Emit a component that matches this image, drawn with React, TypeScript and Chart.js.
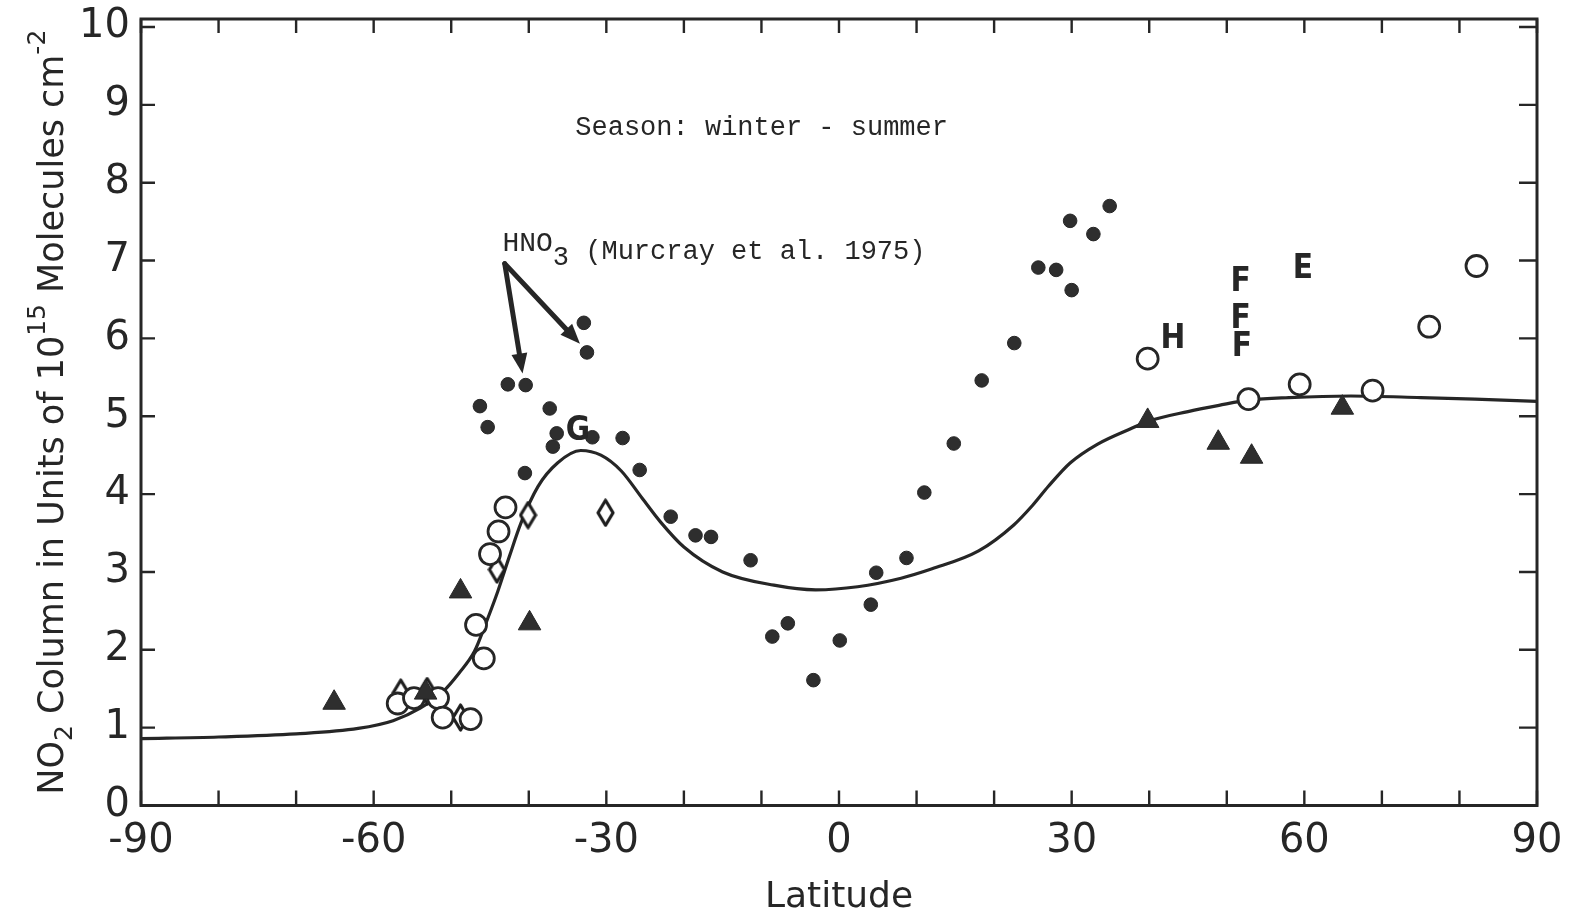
import React, { useEffect, useRef } from 'react';
import { Chart, registerables } from 'chart.js';

Chart.register(...registerables);

const INK = '#262626';
const FILL = '#2e2e2e';

// Axis ticks
const xLabelValues = [-90, -60, -30, 0, 30, 60, 90];
const yTickValues = [0, 1, 2, 3, 4, 5, 6, 7, 8, 9, 10];

// Smoothed latitudinal NO2 column curve
const curveLat = [-90, -80, -70, -62, -57.5, -54, -51, -49, -47, -45.5, -44, -42.5, -41, -38.8, -36.3, -33.3, -30.7, -28.1, -25.4, -23, -20, -15, -8.4, -3, 2.4, 8, 12, 18, 22.5, 25, 27, 29.8, 33.3, 37.6, 40, 45, 49, 53, 58, 66, 75, 82, 90];
const curveNO2 = [0.86, 0.88, 0.92, 0.99, 1.09, 1.25, 1.47, 1.7, 1.98, 2.35, 2.75, 3.2, 3.63, 4.1, 4.4, 4.56, 4.5, 4.3, 3.95, 3.64, 3.32, 3.0, 2.83, 2.77, 2.81, 2.92, 3.04, 3.27, 3.6, 3.86, 4.1, 4.4, 4.64, 4.84, 4.94, 5.06, 5.14, 5.21, 5.24, 5.26, 5.24, 5.22, 5.19];

// Filled dots (HNO3, Murcray et al. 1975)
const dotLat = [-46.3, -45.3, -42.7, -40.4, -40.5, -37.3, -36.4, -36.9, -32.9, -32.5, -31.8, -27.9, -25.7, -21.7, -18.5, -16.5, -11.4, -8.6, -6.6, -3.3, 0.1, 4.1, 4.8, 8.7, 11.0, 14.8, 18.4, 22.6, 25.7, 28.0, 30.0, 29.8, 32.8, 34.9];
const dotNO2 = [5.13, 4.86, 5.41, 5.4, 4.27, 5.1, 4.78, 4.61, 6.2, 5.82, 4.73, 4.72, 4.31, 3.71, 3.47, 3.45, 3.15, 2.17, 2.34, 1.61, 2.12, 2.58, 2.99, 3.18, 4.02, 4.65, 5.46, 5.94, 6.91, 6.88, 6.62, 7.51, 7.34, 7.7];

// Open circles
const circleLat = [-56.9, -54.8, -51.7, -51.1, -47.5, -46.8, -45.8, -45.0, -43.9, -43.0, 39.8, 52.8, 59.4, 68.8, 76.1, 82.2];
const circleNO2 = [1.31, 1.38, 1.38, 1.13, 1.11, 2.32, 1.89, 3.23, 3.52, 3.83, 5.74, 5.22, 5.41, 5.33, 6.15, 6.93];

// Open diamonds
const diamondLat = [-56.5, -53.1, -48.8, -44.1, -40.1, -30.1];
const diamondNO2 = [1.45, 1.47, 1.13, 3.03, 3.73, 3.76];

// Filled triangles
const triangleLat = [-65.1, -53.3, -48.8, -39.9, 39.8, 48.9, 53.2, 64.9];
const triangleNO2 = [1.32, 1.45, 2.75, 2.34, 4.94, 4.66, 4.48, 5.11];

// Letter-coded observations
const letterText = ['G', 'H', 'F', 'F', 'F', 'E'];
const letterLat = [-33.66, 43.06, 51.8, 51.8, 51.95, 59.8];
const letterNO2 = [4.81, 5.99, 6.72, 6.25, 5.88, 6.89];

// Notes
const seasonNote = 'Season: winter - summer';
const seasonAt = [-34.0, 8.71];
const hno3Ref = ' (Murcray et al. 1975)';
const hno3At = [-43.4, 7.1];
const arrowFrom = [-43.1, 6.96];
const arrowToLat = [-40.8, -33.4];
const arrowToNO2 = [5.55, 5.93];

const toPoints = (xs: number[], ys: number[]) => xs.map((x, i) => ({ x, y: ys[i] }));

function diamondImage(w: number, h: number) {
  const c = document.createElement('canvas');
  c.width = w;
  c.height = h;
  const g = c.getContext('2d')!;
  g.lineWidth = 3.2;
  g.strokeStyle = '#1e1e1e';
  g.fillStyle = '#ffffff';
  g.lineJoin = 'round';
  g.beginPath();
  g.moveTo(w / 2, 2);
  g.lineTo(w - 2, h / 2);
  g.lineTo(w / 2, h - 2);
  g.lineTo(2, h / 2);
  g.closePath();
  g.fill();
  g.stroke();
  return c;
}

// Frame drawn slightly above the top of the value range, with inward ticks
const FRAME_OVERHANG = 8;

const framePlugin = {
  id: 'frameTicks',
  beforeDatasetsDraw(chart: any) {
    const { ctx, chartArea: a, scales } = chart;
    const xs = scales.x;
    const ys = scales.y;
    const top = a.top - FRAME_OVERHANG;
    ctx.save();
    ctx.strokeStyle = INK;
    ctx.lineWidth = 3;
    ctx.strokeRect(a.left, top, a.right - a.left, a.bottom - top);
    ctx.lineWidth = 2.4;
    ctx.beginPath();
    xs.ticks.forEach((t: any) => {
      const px = xs.getPixelForValue(t.value);
      ctx.moveTo(px, a.bottom);
      ctx.lineTo(px, a.bottom - 15);
      ctx.moveTo(px, top);
      ctx.lineTo(px, top + 14);
    });
    ys.ticks.forEach((t: any) => {
      const py = ys.getPixelForValue(t.value);
      ctx.moveTo(a.left, py);
      ctx.lineTo(a.left + 14, py);
      ctx.moveTo(a.right, py);
      ctx.lineTo(a.right - 18, py);
    });
    ctx.stroke();
    ctx.restore();
  },
};

const yTitleParts = [
  { t: 'NO', k: '' },
  { t: '2', k: 'sub' },
  { t: ' Column in Units of 10', k: '' },
  { t: '15', k: 'sup' },
  { t: ' Molecules cm', k: '' },
  { t: '-2', k: 'sup' },
];

const yTitlePlugin = {
  id: 'yTitle',
  afterDraw(chart: any) {
    const { ctx, chartArea: a } = chart;
    const size = 35;
    const small = 25;
    const fam = '"DejaVu Sans", sans-serif';
    ctx.save();
    ctx.fillStyle = INK;
    ctx.textBaseline = 'alphabetic';
    ctx.textAlign = 'left';
    let total = 0;
    const widths = yTitleParts.map((p) => {
      ctx.font = `${p.k ? small : size}px ${fam}`;
      const w = ctx.measureText(p.t).width;
      total += w;
      return w;
    });
    ctx.translate(63, (a.top - FRAME_OVERHANG + a.bottom) / 2);
    ctx.rotate(-Math.PI / 2);
    let x = -total / 2;
    yTitleParts.forEach((p, i) => {
      ctx.font = `${p.k ? small : size}px ${fam}`;
      const dy = p.k === 'sub' ? 9 : p.k === 'sup' ? -18 : 0;
      ctx.fillText(p.t, x, dy);
      x += widths[i];
    });
    ctx.restore();
  },
};

function arrow(ctx: CanvasRenderingContext2D, x0: number, y0: number, x1: number, y1: number) {
  const ang = Math.atan2(y1 - y0, x1 - x0);
  const head = 20;
  const half = 8;
  const bx = x1 - Math.cos(ang) * head;
  const by = y1 - Math.sin(ang) * head;
  ctx.beginPath();
  ctx.moveTo(x0, y0);
  ctx.lineTo(bx, by);
  ctx.stroke();
  ctx.beginPath();
  ctx.moveTo(x1, y1);
  ctx.lineTo(bx + Math.sin(ang) * half, by - Math.cos(ang) * half);
  ctx.lineTo(bx - Math.sin(ang) * half, by + Math.cos(ang) * half);
  ctx.closePath();
  ctx.fill();
}

const notesPlugin = {
  id: 'notes',
  afterDatasetsDraw(chart: any) {
    const { ctx, scales } = chart;
    const X = (v: number) => scales.x.getPixelForValue(v);
    const Y = (v: number) => scales.y.getPixelForValue(v);
    const mono = '"Liberation Mono", "DejaVu Sans Mono", monospace';
    ctx.save();
    ctx.fillStyle = INK;
    ctx.strokeStyle = INK;

    // letter codes
    ctx.font = 'bold 33px "DejaVu Sans Condensed", "DejaVu Sans", sans-serif';
    ctx.textAlign = 'center';
    ctx.textBaseline = 'middle';
    letterText.forEach((s, i) => ctx.fillText(s, X(letterLat[i]), Y(letterNO2[i])));

    // season note
    ctx.font = `27px ${mono}`;
    ctx.textAlign = 'left';
    ctx.textBaseline = 'middle';
    ctx.fillText(seasonNote, X(seasonAt[0]), Y(seasonAt[1]));

    // HNO3 reference
    ctx.textBaseline = 'alphabetic';
    let hx = X(hno3At[0]);
    const hy = Y(hno3At[1]);
    ctx.font = `28px ${mono}`;
    ctx.fillText('HNO', hx, hy - 2);
    hx += ctx.measureText('HNO').width;
    ctx.font = `27px ${mono}`;
    ctx.fillText('3', hx, hy + 12);
    hx += ctx.measureText('3').width;
    ctx.fillText(hno3Ref, hx, hy + 6);

    // arrows
    ctx.lineWidth = 5;
    ctx.lineCap = 'round';
    arrowToLat.forEach((lat, i) => {
      arrow(ctx, X(arrowFrom[0]), Y(arrowFrom[1]), X(lat), Y(arrowToNO2[i]));
    });
    ctx.restore();
  },
};

export default function App() {
  const ref = useRef<HTMLCanvasElement | null>(null);

  useEffect(() => {
    if (!ref.current) return;
    const tickFont = { family: '"DejaVu Sans", sans-serif', size: 40, lineHeight: 1 };
    const chart = new Chart(ref.current, {
      type: 'scatter',
      data: {
        datasets: [
          {
            label: 'triangles',
            data: toPoints(triangleLat, triangleNO2),
            pointStyle: 'triangle',
            pointRadius: 13,
            backgroundColor: FILL,
            borderColor: INK,
            borderWidth: 1,
            order: 0,
          },
          {
            label: 'dots',
            data: toPoints(dotLat, dotNO2),
            pointStyle: 'circle',
            pointRadius: 6.8,
            backgroundColor: FILL,
            borderColor: INK,
            borderWidth: 1,
            order: 1,
          },
          {
            label: 'circles',
            data: toPoints(circleLat, circleNO2),
            pointStyle: 'circle',
            pointRadius: 10.5,
            backgroundColor: '#ffffff',
            borderColor: INK,
            borderWidth: 2.8,
            order: 2,
          },
          {
            label: 'diamonds',
            data: toPoints(diamondLat, diamondNO2),
            pointStyle: diamondImage(19, 29) as any,
            pointRadius: 10,
            order: 3,
          },
          {
            type: 'line',
            label: 'curve',
            data: toPoints(curveLat, curveNO2),
            showLine: true,
            borderColor: INK,
            borderWidth: 3.2,
            pointRadius: 0,
            cubicInterpolationMode: 'monotone',
            fill: false,
            order: 10,
          } as any,
        ],
      },
      options: {
        animation: false,
        responsive: true,
        maintainAspectRatio: false,
        events: [],
        layout: { padding: { top: 27, right: 38, left: 0, bottom: 0 } },
        plugins: { legend: { display: false }, tooltip: { enabled: false } },
        scales: {
          x: {
            type: 'linear',
            min: -90,
            max: 90,
            grid: { display: false, drawTicks: false },
            border: { display: false },
            ticks: {
              stepSize: 10,
              autoSkip: false,
              maxRotation: 0,
              padding: 16,
              color: INK,
              font: tickFont,
              callback: (v: any) => (xLabelValues.includes(Number(v)) ? String(v) : ''),
            },
            title: {
              display: true,
              text: 'Latitude',
              color: INK,
              font: { family: '"DejaVu Sans", sans-serif', size: 36 },
              padding: { top: 0, bottom: 5 },
            },
            afterFit: (s: any) => {
              s.height = 118.5;
              s.paddingLeft = 0;
              s.paddingRight = 0;
            },
          },
          y: {
            type: 'linear',
            min: 0,
            max: 10,
            grid: { display: false, drawTicks: false },
            border: { display: false },
            ticks: {
              stepSize: 1,
              padding: 11,
              color: INK,
              font: tickFont,
              callback: (v: any) => (yTickValues.includes(Number(v)) ? String(v) : ''),
            },
            afterFit: (s: any) => {
              s.width = 141;
              s.paddingTop = 0;
              s.paddingBottom = 0;
            },
          },
        },
      },
      plugins: [framePlugin, notesPlugin, yTitlePlugin],
    });
    return () => chart.destroy();
  }, []);

  return (
    <div style={{ position: 'fixed', left: 0, top: 0, width: 1575, height: 924, background: '#ffffff' }}>
      <canvas ref={ref} />
    </div>
  );
}
